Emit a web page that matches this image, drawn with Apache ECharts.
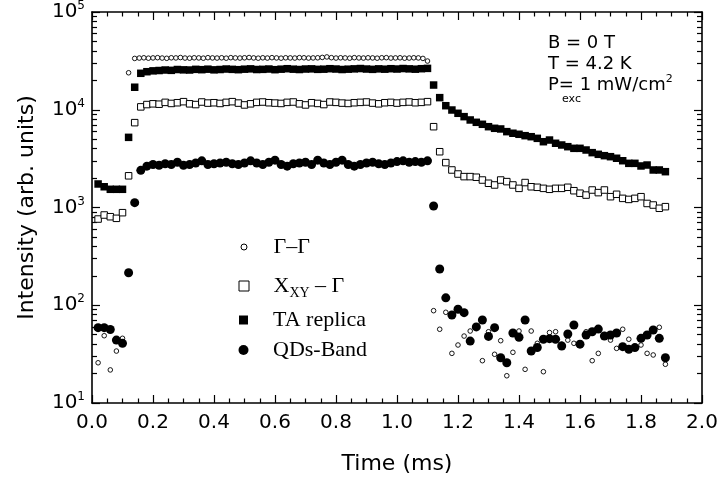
<!DOCTYPE html>
<html><head><meta charset="utf-8">
<script src="https://cdn.jsdelivr.net/npm/echarts@6/dist/echarts.min.js"></script>
<style>html,body{margin:0;padding:0;background:#fff;overflow:hidden}#c{width:760px;height:482px}</style>
</head><body><div id="c"></div>
<script>
// time grid (ms) shared by X_XY, TA and QDs series
const times = [
 0.02,0.04,0.06,0.08,0.10,0.12,0.14,0.16,0.18,0.20,
 0.22,0.24,0.26,0.28,0.30,0.32,0.34,0.36,0.38,0.40,
 0.42,0.44,0.46,0.48,0.50,0.52,0.54,0.56,0.58,0.60,
 0.62,0.64,0.66,0.68,0.70,0.72,0.74,0.76,0.78,0.80,
 0.82,0.84,0.86,0.88,0.90,0.92,0.94,0.96,0.98,1.00,
 1.02,1.04,1.06,1.08,1.10,1.12,1.14,1.16,1.18,1.20,
 1.22,1.24,1.26,1.28,1.30,1.32,1.34,1.36,1.38,1.40,
 1.42,1.44,1.46,1.48,1.50,1.52,1.54,1.56,1.58,1.60,
 1.62,1.64,1.66,1.68,1.70,1.72,1.74,1.76,1.78,1.80,
 1.82,1.84,1.86,1.88];

// Γ–Γ has its own time grid (denser on the plateau)
const ggTimes = [
 0.02,0.04,0.06,0.08,0.10,0.12,
 0.14,0.155,0.17,0.185,0.2,0.215,0.23,0.245,0.26,0.275,0.29,0.305,0.32,0.335,0.35,0.365,
 0.38,0.395,0.41,0.425,0.44,0.455,0.47,0.485,0.5,0.515,0.53,0.545,0.56,0.575,0.59,0.605,
 0.62,0.635,0.65,0.665,0.68,0.695,0.71,0.725,0.74,0.755,0.77,0.785,0.8,0.815,0.83,0.845,
 0.86,0.875,0.89,0.905,0.92,0.935,0.95,0.965,0.98,0.995,1.01,1.025,1.04,1.055,1.07,1.085,1.1,
 1.12,1.14,1.16,1.18,1.20,1.22,1.24,1.26,1.28,1.30,1.32,1.34,1.36,1.38,1.40,1.42,1.44,1.46,
 1.48,1.50,1.52,1.54,1.56,1.58,1.60,1.62,1.64,1.66,1.68,1.70,1.72,1.74,1.76,1.78,1.80,1.82,
 1.84,1.86,1.88];

const ggValues = [
 25.8,48.8,21.8,34,45.9,23900,
 33500,33800,34000,33700,33900,34100,33800,33600,34000,33900,
 34200,33800,33700,34000,33900,33700,34100,33900,33800,34000,
 33700,34100,33900,33800,34000,34200,33900,33700,34000,33800,
 34100,33900,33700,34000,33900,33800,34100,34000,33800,33900,
 34000,34300,34700,34100,33800,34000,33900,33700,34100,33900,
 33800,34000,33900,33700,34000,34100,33800,33900,34000,33700,
 33800,34000,33900,33500,31500,
 88,56.8,84.7,32.2,39.2,48.4,54.5,60,27.1,53.6,31.5,43.4,19.0,33.0,54.5,22.1,54.5,40.8,20.9,
 52.6,53.6,40,44,40.8,40,53.6,27.1,32.2,50,44,36.2,56.8,44.9,37,39.2,32.2,31.0,59.5,24.9];

const xyValues = [
 762,838,805,775,885, 2110, 7380,
 10700,11300,11500,11400,11900,11600,11800,12100,11500,11300,
 12000,11700,11800,11600,11900,12100,11700,11200,11500,11900,
 12000,11800,11700,11600,11900,12000,11500,11200,11800,11600,
 11300,12000,11900,11700,11600,11800,11900,12000,11700,11500,
 11800,11900,11700,11900,12000,11800,11900,12100,
 6710,
 3720,2880,2420,2200,2070,2070,2040,1910,1770,1700,1910,1840,1700,1570,1800,1630,1610,1570,1535,
 1570,1570,1610,1485,1400,1340,1510,1420,1510,1290,1365,1240,1210,1240,1290,1100,1060,982,1020];

const taValues = [
 1740,1630,1535,1535,1535, 5220, 17000,
 23600,24500,25000,25200,25500,25300,25800,25600,25500,25900,
 25700,26000,25600,25800,26100,25900,25700,26000,26200,25800,
 25900,26100,25700,26000,26300,26000,25800,26100,26200,25900,
 26000,26300,26100,25800,26000,26200,26400,26100,25900,26200,
 26000,26300,26100,26400,26200,26000,26300,26500,
 17900,
 13300,11000,9940,9200,8500,7860,7440,7100,6710,6460,6360,5970,5750,5610,5430,5300,5100,4710,4900,
 4540,4360,4190,4030,4030,3875,3640,3500,3390,3310,3190,3010,2830,2830,2660,2720,2420,2420,2325];

const qdValues = [
 59,59,56.5,44,40.8, 215, 1120,
 2400,2650,2750,2700,2800,2750,2900,2700,2750,2850,
 3000,2750,2800,2850,2900,2800,2750,2850,3000,2850,
 2750,2900,3050,2750,2650,2800,2850,2900,2750,3050,
 2850,2750,2900,3050,2750,2650,2750,2850,2900,2800,
 2750,2850,2950,3000,2900,2950,2900,3000,
 1035,
 235,119,79.5,91,84,43,60,70.6,48,59,29,25.8,52,47,70.6,34,37,44.9,45.5,
 44.9,38.3,50.8,62.8,40,49.6,53.6,57,48.4,49.6,52,37.7,35.4,36.9,45.9,49.6,55.8,45.9,29];

const seriesNames = ['Γ–Γ', 'XXY – Γ', 'TA replica', 'QDs-Band'];
const annotationLines = ['B = 0 T', 'T = 4.2 K'];

const SANS = 'DejaVu Sans';
const SERIF = 'Liberation Serif';
const X_MIN = 0, X_MAX = 2;

function pairs(ts, vs) { return ts.map((t, i) => [t, vs[i]]); }

function axisLineStyle() { return {show: true, onZero: false, lineStyle: {color: '#000', width: 1.6}}; }
function tickStyle() { return {show: true, inside: true, length: 8, lineStyle: {color: '#000', width: 1.2}}; }
function minorStyle(n, len) { return {show: true, splitNumber: n, length: len, lineStyle: {color: '#000', width: 1.2}}; }

function legendItem(name, icon, size, style, centerY, extra) {
  return Object.assign({
    data: [{name: name, icon: icon, itemStyle: Object.assign({opacity: 1}, style)}],
    left: 243.5 - size / 2, top: centerY - 13,
    orient: 'vertical', padding: 0,
    itemWidth: size, itemHeight: size,
    selectedMode: false,
    textStyle: {fontFamily: SERIF, fontSize: 22, color: '#000', lineHeight: 26,
                padding: [0, 0, 0, 273 - (243.5 + size / 2 + 5)]}
  }, extra || {});
}

function yAxisDef(pos, showLabel) {
  const a = {
    type: 'log', min: 10, max: 100000, position: pos,
    axisLine: axisLineStyle(), axisTick: tickStyle(),
    minorTick: minorStyle(9, 5),
    splitLine: {show: false}
  };
  if (showLabel) {
    a.axisLabel = {
      margin: 7,
      formatter: v => '{b|10}{s|' + Math.round(Math.log10(v)) + '}',
      rich: {
        b: {fontFamily: SANS, fontSize: 20, color: '#000', lineHeight: 24},
        s: {fontFamily: SANS, fontSize: 12, color: '#000', lineHeight: 12, verticalAlign: 'top'}
      }
    };
    a.name = 'Intensity (arb. units)';
    a.nameLocation = 'middle';
    a.nameGap = 54;
    a.nameTextStyle = {fontFamily: SANS, fontSize: 22, color: '#000'};
  } else {
    a.axisLabel = {show: false};
  }
  return a;
}

function xAxisDef(pos, showLabel) {
  const a = {
    type: 'value', min: X_MIN, max: X_MAX, interval: 0.2, position: pos,
    axisLine: axisLineStyle(), axisTick: tickStyle(),
    minorTick: minorStyle(4, 4.5),
    splitLine: {show: false}
  };
  if (showLabel) {
    a.axisLabel = {fontFamily: SANS, fontSize: 20, color: '#000', margin: 10, formatter: v => v.toFixed(1)};
    a.name = 'Time (ms)';
    a.nameLocation = 'middle';
    a.nameGap = 50;
    a.nameTextStyle = {fontFamily: SANS, fontSize: 22, color: '#000'};
  } else {
    a.axisLabel = {show: false};
  }
  return a;
}

// the chart container is wider than the 717 px window so the "2.0" label never forces the grid to shrink;
// the plot frame still ends at x = 702 inside the visible window.
const chart = echarts.init(document.getElementById('c'), null, {renderer: 'canvas'});
chart.setOption({
  animation: false,
  backgroundColor: '#fff',
  grid: {left: 92, right: 58, top: 12, bottom: 79},
  xAxis: [xAxisDef('bottom', true), xAxisDef('top', false)],
  yAxis: [yAxisDef('left', true), yAxisDef('right', false)],
  legend: [
    legendItem(seriesNames[0], 'circle', 6, {color: '#fff', borderColor: '#000', borderWidth: 1}, 247),
    legendItem(seriesNames[1], 'rect', 10, {color: '#fff', borderColor: '#000', borderWidth: 1}, 285, {
      formatter: () => '{n|X}{sub|XY}{n| – Γ}',
      textStyle: {fontFamily: SERIF, fontSize: 22, color: '#000',
                  padding: [0, 0, 0, 273 - (243.5 + 5 + 5)],
                  rich: {
                    n: {fontFamily: SERIF, fontSize: 22, color: '#000', lineHeight: 26},
                    sub: {fontFamily: SERIF, fontSize: 14, color: '#000', lineHeight: 14, padding: [14, 0, 0, 0]}
                  }}
    }),
    legendItem(seriesNames[2], 'rect', 9, {color: '#000', borderWidth: 0}, 320),
    legendItem(seriesNames[3], 'circle', 10, {color: '#000', borderWidth: 0}, 350)
  ],
  graphic: [
    {type: 'text', x: 548, y: 43, silent: true,
     style: {text: annotationLines[0], fontFamily: SANS, fontSize: 18, fill: '#000', verticalAlign: 'middle'}},
    {type: 'text', x: 548, y: 64, silent: true,
     style: {text: annotationLines[1], fontFamily: SANS, fontSize: 18, fill: '#000', verticalAlign: 'middle'}},
    {type: 'text', x: 548, y: 85, silent: true,
     style: {text: '{n|P= 1 mW/cm}{s|2}', verticalAlign: 'middle',
             rich: {n: {fontFamily: SANS, fontSize: 18, fill: '#000', lineHeight: 22},
                    s: {fontFamily: SANS, fontSize: 11, fill: '#000', lineHeight: 11, verticalAlign: 'top'}}}},
    {type: 'text', x: 562, y: 99, silent: true,
     style: {text: 'exc', fontFamily: SANS, fontSize: 11, fill: '#000', verticalAlign: 'middle'}}
  ],
  series: [
    {name: seriesNames[0], type: 'scatter', data: pairs(ggTimes, ggValues), symbol: 'circle', symbolSize: 4.6,
     itemStyle: {color: '#fff', borderColor: '#000', borderWidth: 0.9, opacity: 1}, silent: true},
    {name: seriesNames[1], type: 'scatter', data: pairs(times, xyValues), symbol: 'rect', symbolSize: 6.5,
     itemStyle: {color: '#fff', borderColor: '#000', borderWidth: 1, opacity: 1}, silent: true},
    {name: seriesNames[2], type: 'scatter', data: pairs(times, taValues), symbol: 'rect', symbolSize: 7.5,
     itemStyle: {color: '#000', opacity: 1}, silent: true},
    {name: seriesNames[3], type: 'scatter', data: pairs(times, qdValues), symbol: 'circle', symbolSize: 9,
     itemStyle: {color: '#000', opacity: 1}, silent: true}
  ]
});
</script></body></html>
